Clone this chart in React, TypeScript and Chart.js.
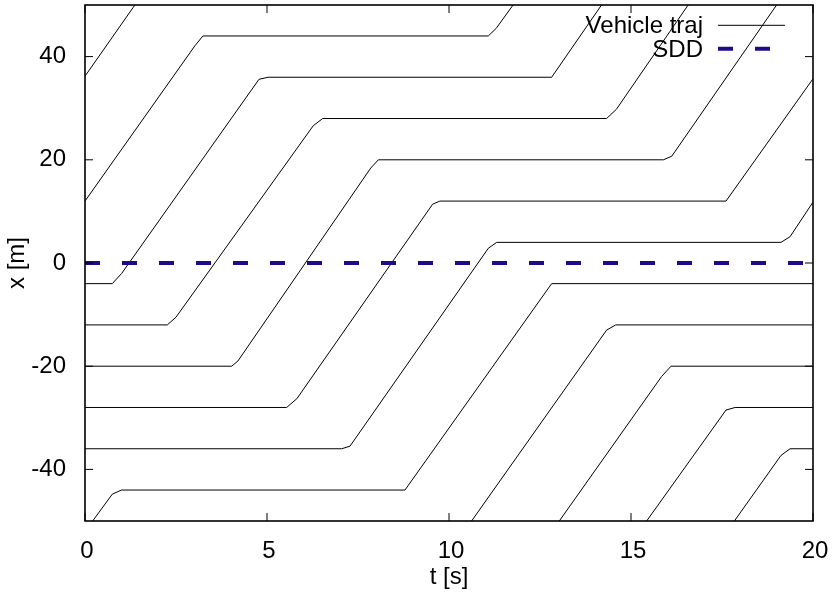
import React, { useEffect, useRef } from "react";
import { Chart, registerables } from "chart.js";

Chart.register(...registerables);

type P = [number, number];

// Axis ranges and tick values
const tRange: P = [0, 20];
const xRange: P = [-50, 50];
const xTicks = [0, 5, 10, 15, 20];
const yTicks = [-40, -20, 0, 20, 40];

const axisTitles = { t: "t [s]", x: "x [m]" };
const seriesLabels = { traj: "Vehicle traj", sdd: "SDD" };

// SDD reference line (t, x)
const sdd: P[] = [[0, 0], [20, 0]];

// Vehicle trajectories (t [s], x [m])
const trajA: P[] = [[0, 36.2], [1.37, 50]];
const trajB: P[] = [[0, 12], [3.02, 42.1], [3.24, 44], [11.08, 44], [11.3, 45.5], [11.76, 50]];
const trajC: P[] = [[0, -4], [0.75, -4], [1.01, -2], [4.78, 35.6], [5.03, 36], [12.82, 36], [14.19, 50]];
const trajD: P[] = [[0, -12], [2.26, -12], [2.5, -10.5], [6.27, 26.6], [6.53, 28], [14.33, 28], [14.6, 29.8], [16.57, 50]];
const trajE: P[] = [[0, -20], [4.03, -20], [4.2, -19], [7.85, 18.4], [8.06, 20], [15.89, 20], [16.12, 20.7], [19.0, 50]];
const trajF: P[] = [[0, -28], [5.54, -28], [5.82, -26.3], [9.55, 11.4], [9.75, 12], [17.61, 12], [20, 35.7]];
const trajG: P[] = [[0, -36], [7.05, -36], [7.28, -35.5], [11.08, 2.85], [11.31, 4], [19.12, 4], [19.37, 5.1], [20, 11.8]];
const trajH: P[] = [[0.21, -50], [0.75, -44.8], [1.0, -44], [8.79, -44], [12.82, -4], [20, -4]];
const trajI: P[] = [[10.62, -50], [14.33, -13], [14.58, -12], [20, -12]];
const trajJ: P[] = [[13.03, -50], [15.84, -22], [16.1, -20], [20, -20]];
const trajK: P[] = [[15.43, -50], [17.61, -28.5], [17.86, -28], [20, -28]];
const trajL: P[] = [[17.84, -50], [19.12, -37.3], [19.37, -36], [20, -36]];

const trajectories: P[][] = [trajA, trajB, trajC, trajD, trajE, trajF, trajG, trajH, trajI, trajJ, trajK, trajL];

const FONT = "'Liberation Sans', Arial, sans-serif";
const SDD_COLOR = "#200a8c";
const SDD_DASH = [15, 22];

const toXY = (pts: P[]) => pts.map(([t, x]) => ({ x: t, y: x }));

const framePlugin = {
  id: "gnuFrame",
  afterDatasetsDraw(chart: any) {
    const { ctx, chartArea } = chart;
    const { left, right, top, bottom } = chartArea;
    const xs = chart.scales.x;
    const ys = chart.scales.y;
    const tl = 8;
    ctx.save();
    ctx.strokeStyle = "#000";
    ctx.lineWidth = 1;
    ctx.beginPath();
    xs.ticks.forEach((tk: any) => {
      const px = xs.getPixelForValue(tk.value);
      ctx.moveTo(px, bottom);
      ctx.lineTo(px, bottom - tl);
      ctx.moveTo(px, top);
      ctx.lineTo(px, top + tl);
    });
    ys.ticks.forEach((tk: any) => {
      const py = ys.getPixelForValue(tk.value);
      ctx.moveTo(left, py);
      ctx.lineTo(left + tl, py);
      ctx.moveTo(right, py);
      ctx.lineTo(right - tl, py);
    });
    ctx.stroke();
    ctx.lineWidth = 1.6;
    ctx.strokeRect(left, top, right - left, bottom - top);
    ctx.restore();
  },
};

const keyPlugin = {
  id: "gnuKey",
  beforeDatasetsDraw(chart: any) {
    const { ctx, chartArea } = chart;
    const { right, top } = chartArea;
    const textRight = right - 110;
    const sampleL = right - 95;
    const sampleR = right - 28;
    const rows = [
      { label: chart.data.datasets[1].label, base: top + 28.3, dashed: false },
      { label: chart.data.datasets[0].label, base: top + 51.7, dashed: true },
    ];
    ctx.save();
    ctx.font = `24px ${FONT}`;
    ctx.fillStyle = "#000";
    ctx.textAlign = "right";
    ctx.textBaseline = "alphabetic";
    rows.forEach((r) => {
      ctx.fillText(r.label, textRight, r.base);
      const ly = r.base - 8;
      ctx.beginPath();
      if (r.dashed) {
        ctx.strokeStyle = SDD_COLOR;
        ctx.lineWidth = 4;
        ctx.setLineDash(SDD_DASH);
        ctx.moveTo(sampleL, ly);
        ctx.lineTo(sampleR - 15, ly);
      } else {
        ctx.strokeStyle = "#000";
        ctx.lineWidth = 1;
        ctx.setLineDash([]);
        ctx.moveTo(sampleL, ly);
        ctx.lineTo(sampleR, ly);
      }
      ctx.stroke();
    });
    ctx.restore();
  },
};

export default function App() {
  const ref = useRef<HTMLCanvasElement | null>(null);

  useEffect(() => {
    document.body.style.margin = "0";
    const canvas = ref.current;
    if (!canvas) return;

    const datasets: any[] = [
      {
        label: seriesLabels.sdd,
        data: toXY(sdd),
        borderColor: SDD_COLOR,
        borderWidth: 4,
        borderDash: SDD_DASH,
        borderCapStyle: "butt",
        pointRadius: 0,
        tension: 0,
        fill: false,
      },
      ...trajectories.map((tr) => ({
        label: seriesLabels.traj,
        data: toXY(tr),
        borderColor: "#000",
        borderWidth: 1,
        pointRadius: 0,
        tension: 0,
        fill: false,
      })),
    ];

    const chart = new Chart(canvas, {
      type: "line",
      data: { datasets },
      options: {
        animation: false,
        responsive: false,
        devicePixelRatio: 1,
        events: [],
        layout: { padding: { top: 5, right: 20, left: 0, bottom: 0 } },
        plugins: {
          legend: { display: false },
          tooltip: { enabled: false },
        },
        scales: {
          x: {
            type: "linear",
            min: tRange[0],
            max: tRange[1],
            grid: { display: false },
            border: { display: false },
            afterBuildTicks: (s: any) => {
              s.ticks = xTicks.map((v) => ({ value: v }));
            },
            afterFit: (s: any) => {
              s.height = 71;
              s.paddingLeft = 0;
              s.paddingRight = 0;
            },
            ticks: {
              color: "#000",
              font: { family: FONT, size: 24 },
              padding: 8,
              labelOffset: 2,
              maxRotation: 0,
            },
            title: {
              display: true,
              text: axisTitles.t,
              color: "#000",
              font: { family: FONT, size: 24 },
              padding: { top: 0, bottom: 0 },
            },
          },
          y: {
            type: "linear",
            min: xRange[0],
            max: xRange[1],
            grid: { display: false },
            border: { display: false },
            afterBuildTicks: (s: any) => {
              s.ticks = yTicks.map((v) => ({ value: v }));
            },
            afterFit: (s: any) => {
              s.width = 85;
              s.paddingTop = 0;
              s.paddingBottom = 0;
            },
            ticks: {
              color: "#000",
              font: { family: FONT, size: 24 },
              padding: 11,
            },
            title: {
              display: true,
              text: axisTitles.x,
              color: "#000",
              font: { family: FONT, size: 24 },
              padding: { top: 3, bottom: 0 },
            },
          },
        },
      },
      plugins: [keyPlugin, framePlugin],
    } as any);

    return () => chart.destroy();
  }, []);

  return (
    <div style={{ width: 833, height: 592, position: "relative" }}>
      <canvas ref={ref} width={833} height={592} style={{ display: "block" }} />
    </div>
  );
}
